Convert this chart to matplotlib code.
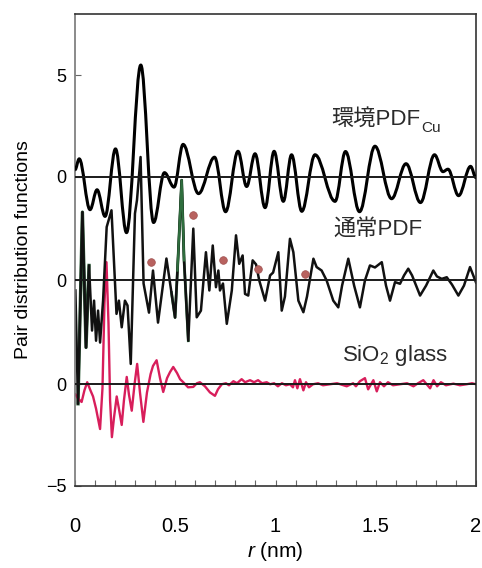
import numpy as np
import matplotlib
matplotlib.use("Agg")
import matplotlib.pyplot as plt
from matplotlib.path import Path
from matplotlib.patches import PathPatch

plt.rcParams['font.family'] = ['Liberation Sans', 'Noto Sans CJK JP', 'DejaVu Sans']
plt.rcParams['mathtext.fontset'] = 'custom'
plt.rcParams['mathtext.rm'] = 'Liberation Sans'
plt.rcParams['mathtext.it'] = 'Liberation Sans:italic'

# vertical shift of each curve
offset_env = 10.2
offset_norm = 5.1
offset_sio2 = 0.0

# environmental PDF around Cu (peaks and troughs)
r_env = [0.000, 0.021, 0.075, 0.110, 0.150, 0.202, 0.257, 0.328, 0.392, 0.446,
         0.494, 0.539, 0.616, 0.696, 0.751, 0.813, 0.856, 0.898, 0.948, 0.993,
         1.039, 1.080, 1.131, 1.197, 1.297, 1.349, 1.419, 1.496, 1.579, 1.651,
         1.723, 1.793, 1.835, 1.860, 1.913, 1.973, 2.000]
g_env = [0.34, 0.88, -1.62, -0.64, -1.95, 1.37, -2.75, 5.49, -2.25, 0.20,
         -0.51, 1.59, -0.83, 0.96, -1.72, 1.25, -0.48, 1.13, -1.52, 1.25,
         -1.21, 1.08, -1.70, 1.08, -1.21, 1.24, -1.72, 1.50, -1.08, 0.64,
         -1.27, 1.08, 0.25, 0.37, -0.93, 0.51, -0.05]

# ordinary PDF
r_norm = [0.002, 0.015, 0.037, 0.055, 0.070, 0.085, 0.095, 0.105, 0.115, 0.125,
          0.140, 0.158, 0.182, 0.207, 0.219, 0.233, 0.249, 0.262, 0.278, 0.299,
          0.309, 0.327, 0.342, 0.369, 0.389, 0.414, 0.456, 0.481, 0.499, 0.511,
          0.532, 0.544, 0.565, 0.590, 0.607, 0.628, 0.653, 0.670, 0.687, 0.703,
          0.715, 0.723, 0.738, 0.757, 0.782, 0.803, 0.819, 0.836, 0.848, 0.864,
          0.886, 0.903, 0.919, 0.948, 0.973, 0.988, 1.014, 1.031, 1.047, 1.072,
          1.089, 1.114, 1.139, 1.157, 1.189, 1.205, 1.230, 1.255, 1.288, 1.313,
          1.332, 1.363, 1.392, 1.421, 1.446, 1.471, 1.496, 1.530, 1.551, 1.571,
          1.596, 1.621, 1.641, 1.662, 1.681, 1.721, 1.751, 1.787, 1.805, 1.829,
          1.854, 1.880, 1.912, 1.940, 1.970, 2.000]
g_norm = [-0.49, -6.06, 3.36, -3.29, 0.74, -2.46, -0.99, -2.96, -1.48, -3.05,
          -0.99, 2.63, 3.45, -1.64, -0.99, -2.30, -0.99, -1.23, -4.10, 3.29,
          3.94, 6.07, -0.15, -1.58, 0.49, -2.07, 1.08, -0.59, -1.82, 0.49,
          4.93, 0.99, -2.96, 2.55, -1.81, -1.48, 1.39, -0.49, 1.72, -0.33,
          0.49, -0.49, -0.15, -2.13, -0.49, 2.22, 0.82, 1.23, -0.66, -0.74,
          0.99, 0.79, 0.00, -0.99, 0.25, 0.39, 1.39, -1.48, -0.79, 2.05,
          1.39, -0.99, -1.56, -0.79, 1.07, 0.66, 0.49, 0.00, -0.99, -1.32,
          -0.25, 1.07, -0.25, -1.32, 0.00, 0.74, 0.64, 0.90, -0.25, -0.99,
          -0.08, -0.16, 0.25, 0.58, 0.25, -0.74, -0.25, 0.49, 0.20, 0.08,
          0.16, -0.20, -0.74, -0.25, 0.66, -0.10]

# marked peaks on the ordinary PDF
r_dots = [0.379, 0.588, 0.737, 0.914, 1.147]
g_dots = [0.90, 3.20, 0.99, 0.57, 0.30]

# SiO2 glass
r_sio2 = [0.002, 0.015, 0.033, 0.047, 0.061, 0.077, 0.090, 0.105, 0.125, 0.137,
          0.147, 0.157, 0.167, 0.175, 0.184, 0.195, 0.208, 0.219, 0.233, 0.244,
          0.258, 0.269, 0.283, 0.297, 0.310, 0.324, 0.341, 0.359, 0.377, 0.389,
          0.407, 0.424, 0.440, 0.459, 0.474, 0.490, 0.509, 0.524, 0.540, 0.564,
          0.590, 0.608, 0.623, 0.648, 0.673, 0.698, 0.713, 0.732, 0.753, 0.768,
          0.790, 0.808, 0.831, 0.848, 0.873, 0.893, 0.913, 0.933, 0.956, 0.973,
          0.993, 1.012, 1.032, 1.052, 1.072, 1.087, 1.097, 1.109, 1.122, 1.139,
          1.152, 1.167, 1.187, 1.212, 1.237, 1.272, 1.307, 1.355, 1.387, 1.401,
          1.421, 1.446, 1.462, 1.488, 1.505, 1.521, 1.541, 1.561, 1.586, 1.621,
          1.656, 1.688, 1.711, 1.737, 1.771, 1.788, 1.806, 1.825, 1.850, 1.887,
          1.920, 1.953, 1.980, 2.000]
g_sio2 = [-0.50, -0.70, -0.87, -0.30, 0.10, -0.30, -0.60, -1.20, -2.20, -0.20,
          4.00, 6.00, 3.00, -0.80, -2.60, -1.60, -0.60, -1.20, -2.00, -0.80,
          0.36, -0.50, -1.30, 0.00, 1.00, -0.40, -1.85, -0.40, 0.50, 0.90,
          1.18, 0.30, -0.38, 0.30, 0.60, 0.85, 0.55, 0.25, 0.10, -0.15,
          -0.13, 0.05, 0.10, -0.10, -0.40, -0.57, -0.25, 0.00, 0.05, -0.05,
          0.15, 0.05, 0.25, 0.10, 0.20, 0.10, 0.20, 0.05, 0.10, 0.00,
          0.05, -0.10, 0.05, -0.05, 0.00, -0.15, 0.20, -0.20, 0.25, -0.30,
          0.10, -0.15, 0.00, 0.05, -0.05, 0.00, 0.05, -0.10, 0.05, -0.10,
          0.15, 0.30, -0.25, 0.20, -0.35, 0.10, -0.10, 0.10, -0.05, 0.00,
          0.05, -0.10, 0.05, 0.20, -0.20, 0.20, -0.10, 0.10, -0.05, 0.03,
          -0.05, 0.00, 0.05, 0.00]

ytick_pos = [-5, offset_sio2, offset_norm, offset_env, offset_env + 5]
ytick_lab = ['\u22125', '0', '0', '0', '5']
xtick_pos = [0, 0.5, 1, 1.5, 2]
xtick_lab = ['0', '0.5', '1', '1.5', '2']


def smooth_path(x, y, k=0.36):
    # cubic segments with flat tangents at each extremum
    verts = [(x[0], y[0])]
    codes = [Path.MOVETO]
    for i in range(1, len(x)):
        d = (x[i] - x[i - 1]) * k
        verts += [(x[i - 1] + d, y[i - 1]), (x[i] - d, y[i]), (x[i], y[i])]
        codes += [Path.CURVE4] * 3
    return Path(verts, codes)


fig = plt.figure(figsize=(4.82, 5.68), dpi=100)
ax = fig.add_axes([0.1556, 0.1444, 0.8320, 0.8310])

# environmental PDF
env = np.array(g_env) + offset_env
ax.add_patch(PathPatch(smooth_path(r_env, env), fill=False, ec='black',
                       lw=2.2, joinstyle='round', zorder=3))

# ordinary PDF (dark green trace under black)
norm = np.array(g_norm) + offset_norm
ax.plot(r_norm[27:33], norm[27:33], color='#2f6e3e', lw=2.0, zorder=2)
ax.plot(r_norm[1:5], norm[1:5], color='#2f5e3a', lw=2.4, zorder=2)
ax.plot(r_norm, norm, color='#111111', lw=1.8, zorder=2.5,
        solid_joinstyle='round')
ax.plot(r_norm[29:32], norm[29:32], color='#2f6e3e', lw=1.6, zorder=2.6)
ax.plot(r_dots, np.array(g_dots) + offset_norm, 'o', ms=5.5,
        color='#b8625f', mec='#a05050', mew=0.5, zorder=4)

# SiO2 glass
sio2 = np.array(g_sio2) + offset_sio2
ax.plot(r_sio2, sio2, color='#d81e5b', lw=1.7, zorder=2.2,
        solid_joinstyle='round')

# zero lines
for off in [offset_sio2, offset_norm, offset_env]:
    ax.axhline(off, color='#1a1a1a', lw=1.4, zorder=3.5)

ax.set_xlim(0, 2)
ax.set_ylim(-5, 18.2)
ax.set_xticks(xtick_pos)
ax.set_xticklabels(xtick_lab, fontsize=14.5)
ax.set_xticks(np.arange(0, 2.01, 0.1), minor=True)
ax.set_yticks(ytick_pos)
ax.set_yticklabels(ytick_lab, fontsize=13)
ax.tick_params(axis='x', which='both', direction='in', length=4, width=0.8,
               pad=22, color='#666666')
ax.tick_params(axis='y', direction='in', length=4, width=0.8, pad=6,
               color='#666666')
for s in ax.spines.values():
    s.set_linewidth(1.2)
    s.set_color('#333333')
ax.spines['left'].set_color('#777777')

ax.set_xlabel(r'$\it{r}$ (nm)', fontsize=15, labelpad=3)
ax.set_ylabel('Pair distribution functions', fontsize=14, labelpad=10)

t = ax.text(1.28, 13.0, '環境PDF', fontsize=16, color='#2a2a2a',
            ha='left', va='center')
ax.annotate('Cu', xy=(1.0, 0.12), xycoords=t, fontsize=11, color='#2a2a2a',
            ha='left', va='center')
ax.text(1.29, 7.6, '通常PDF', fontsize=16, color='#2a2a2a',
        ha='left', va='center')
ax.text(1.33, 1.4, 'SiO$_2$ glass', fontsize=16, color='#2a2a2a',
        ha='left', va='center')

fig.savefig('out.png', dpi=100)
